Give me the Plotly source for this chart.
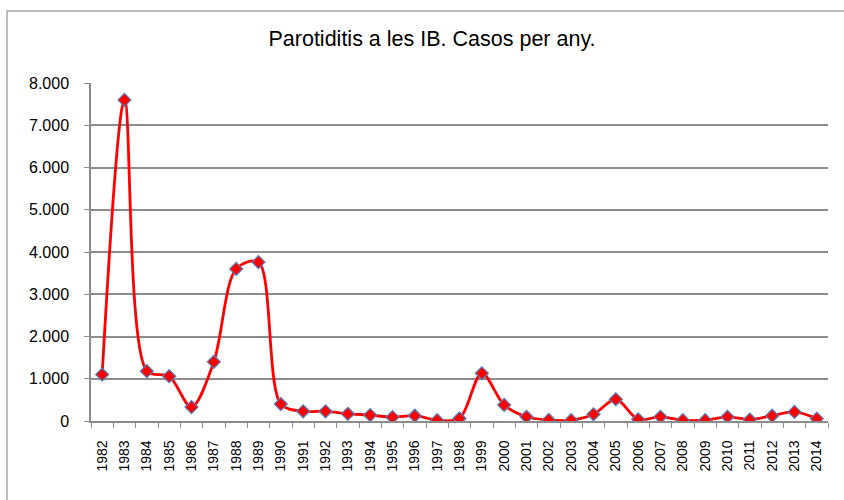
import plotly.graph_objects as go

YEARS = [str(y) for y in range(1982, 2015)]
CASES = [
    1100, 7600, 1180, 1060, 330, 1400, 3600, 3760, 400, 230,
    230, 170, 140, 90, 125, 20, 60, 1130, 380, 100,
    25, 20, 160, 515, 40, 100, 20, 20, 100, 35,
    125, 215, 55,
]

GRID_COLOR = "#8C8C8C"
TEXT_COLOR = "#000000"
FONT = "Liberation Sans, Arial, sans-serif"

# plot area in pixels: left 91, right 828, top 83, bottom 421
ML, MR, MT, MB = 91, 16, 83, 79
PW, PH = 844 - ML - MR, 500 - MT - MB

fig = go.Figure()
fig.add_trace(
    go.Scatter(
        x=YEARS,
        y=CASES,
        mode="lines+markers",
        line={"color": "#FF0000", "width": 2.8, "shape": "spline", "smoothing": 0.9},
        marker={"symbol": "diamond", "size": 10, "color": "#FF0000",
                "line": {"color": "#4F81BD", "width": 1.2}},
        showlegend=False,
    )
)

fig.update_layout(
    width=844,
    height=500,
    paper_bgcolor="#FFFFFF",
    plot_bgcolor="#FFFFFF",
    font={"family": FONT, "color": TEXT_COLOR, "size": 14},
    separators=",.",
    margin={"l": ML, "r": MR, "t": MT, "b": MB},
    title={
        "text": "Parotiditis a les IB. Casos per any.",
        "x": 432 / 844,
        "xanchor": "center",
        "xref": "container",
        "y": 1 - 38 / 500,
        "yanchor": "middle",
        "yref": "container",
        "font": {"size": 21.5, "family": FONT, "color": TEXT_COLOR},
    },
    shapes=[
        {
            "type": "rect",
            "xref": "paper",
            "yref": "paper",
            "x0": (7 - ML) / PW,
            "x1": 1.2,
            "y0": -0.5,
            "y1": (500 - MB - 11) / PH,
            "line": {"color": "#A6A6A6", "width": 1.5},
        }
    ],
)

fig.update_xaxes(
    type="category",
    range=[-0.5, len(YEARS) - 0.5],
    automargin=False,
    tickson="boundaries",
    ticks="outside",
    ticklen=5,
    tickcolor=GRID_COLOR,
    showgrid=False,
    showline=True,
    linecolor=GRID_COLOR,
    linewidth=1.5,
    tickangle=-90,
    tickfont={"size": 14},
    ticklabelstandoff=12,
    zeroline=False,
)
fig.update_yaxes(
    range=[0, 8000],
    automargin=False,
    dtick=1000,
    tickformat=",d",
    ticks="outside",
    ticklen=5,
    tickcolor=GRID_COLOR,
    showgrid=True,
    gridcolor=GRID_COLOR,
    gridwidth=1.5,
    showline=True,
    linecolor=GRID_COLOR,
    linewidth=1.5,
    zeroline=False,
    tickfont={"size": 16},
    ticklabelstandoff=12,
)

# drop the page's default body margin so the figure sits at the window origin
fig.write_html(
    "out.html",
    config={"displayModeBar": False},
    post_script="document.body.style.margin = '0';",
)
